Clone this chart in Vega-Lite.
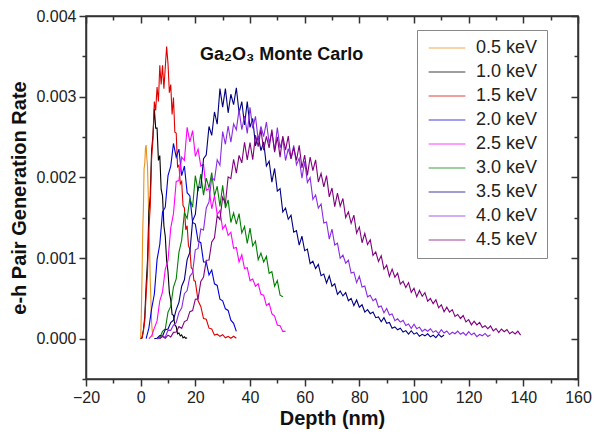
{
"$schema":"https://vega.github.io/schema/vega-lite/v6.json",
"width":492,"height":363,
"autosize":{"type":"none"},
"padding":{"left":86,"top":16,"right":16,"bottom":59},
"background":"white",
"config":{"view":{"stroke":"#333","strokeWidth":1.5},"font":"Liberation Sans"},
"resolve":{"axis":{"x":"independent","y":"independent"}},
"layer":[
{
"data":{"values":[
{"s":"0.5 keV","x":0,"y":0},{"s":"0.5 keV","x":0.25,"y":0.00033},{"s":"0.5 keV","x":0.5,"y":0.00076},{"s":"0.5 keV","x":0.75,"y":0.00134},{"s":"0.5 keV","x":1,"y":0.00162},{"s":"0.5 keV","x":1.25,"y":0.00211},{"s":"0.5 keV","x":1.5,"y":0.00217},{"s":"0.5 keV","x":1.75,"y":0.00236},{"s":"0.5 keV","x":2,"y":0.0024},{"s":"0.5 keV","x":2.25,"y":0.00224},{"s":"0.5 keV","x":2.5,"y":0.00214},{"s":"0.5 keV","x":2.75,"y":0.00182},{"s":"0.5 keV","x":3,"y":0.00141},{"s":"0.5 keV","x":3.25,"y":0.00116},{"s":"0.5 keV","x":3.5,"y":0.00072},{"s":"0.5 keV","x":3.75,"y":0.00048},{"s":"0.5 keV","x":4,"y":0.0002},{"s":"0.5 keV","x":4.25,"y":0.00009},{"s":"0.5 keV","x":4.5,"y":0.00002},
{"s":"1.0 keV","x":0,"y":0},{"s":"1.0 keV","x":0.5,"y":0.00001},{"s":"1.0 keV","x":1,"y":0.00011},{"s":"1.0 keV","x":1.5,"y":0.00027},{"s":"1.0 keV","x":2,"y":0.00066},{"s":"1.0 keV","x":2.5,"y":0.00097},{"s":"1.0 keV","x":3,"y":0.00157},{"s":"1.0 keV","x":3.5,"y":0.00177},{"s":"1.0 keV","x":4,"y":0.00233},{"s":"1.0 keV","x":4.5,"y":0.00252},{"s":"1.0 keV","x":5,"y":0.00285},{"s":"1.0 keV","x":5.5,"y":0.00261},{"s":"1.0 keV","x":6,"y":0.00261},{"s":"1.0 keV","x":6.5,"y":0.00221},{"s":"1.0 keV","x":7,"y":0.00227},{"s":"1.0 keV","x":7.5,"y":0.00185},{"s":"1.0 keV","x":8,"y":0.00177},{"s":"1.0 keV","x":8.5,"y":0.0014},{"s":"1.0 keV","x":9,"y":0.00127},{"s":"1.0 keV","x":9.5,"y":0.00097},{"s":"1.0 keV","x":10,"y":0.00083},{"s":"1.0 keV","x":10.5,"y":0.00057},{"s":"1.0 keV","x":11,"y":0.00048},{"s":"1.0 keV","x":11.5,"y":0.0003},{"s":"1.0 keV","x":12,"y":0.00029},{"s":"1.0 keV","x":12.5,"y":0.00017},{"s":"1.0 keV","x":13,"y":0.00015},{"s":"1.0 keV","x":13.5,"y":0.00006},{"s":"1.0 keV","x":14,"y":0.00007},{"s":"1.0 keV","x":14.5,"y":0.000034},{"s":"1.0 keV","x":15,"y":0.000048},{"s":"1.0 keV","x":15.5,"y":0.00001},{"s":"1.0 keV","x":16,"y":0.000023},{"s":"1.0 keV","x":16.5,"y":0.000005},{"s":"1.0 keV","x":17,"y":0.000012},
{"s":"1.5 keV","x":0,"y":0},{"s":"1.5 keV","x":0.5,"y":0.00001},{"s":"1.5 keV","x":1,"y":0.00009},{"s":"1.5 keV","x":1.5,"y":0.00022},{"s":"1.5 keV","x":2,"y":0.00055},{"s":"1.5 keV","x":2.5,"y":0.00082},{"s":"1.5 keV","x":3,"y":0.00136},{"s":"1.5 keV","x":3.5,"y":0.00163},{"s":"1.5 keV","x":4,"y":0.00223},{"s":"1.5 keV","x":4.5,"y":0.00248},{"s":"1.5 keV","x":5,"y":0.00294},{"s":"1.5 keV","x":5.5,"y":0.00283},{"s":"1.5 keV","x":6,"y":0.00312},{"s":"1.5 keV","x":6.5,"y":0.00294},{"s":"1.5 keV","x":7,"y":0.00339},{"s":"1.5 keV","x":7.5,"y":0.00315},{"s":"1.5 keV","x":8,"y":0.00339},{"s":"1.5 keV","x":8.5,"y":0.0031},{"s":"1.5 keV","x":9,"y":0.00336},{"s":"1.5 keV","x":9.5,"y":0.00362},{"s":"1.5 keV","x":10,"y":0.00341},{"s":"1.5 keV","x":10.5,"y":0.00305},{"s":"1.5 keV","x":11,"y":0.00315},{"s":"1.5 keV","x":11.5,"y":0.00278},{"s":"1.5 keV","x":12,"y":0.00299},{"s":"1.5 keV","x":12.5,"y":0.00256},{"s":"1.5 keV","x":13,"y":0.00255},{"s":"1.5 keV","x":13.5,"y":0.00213},{"s":"1.5 keV","x":14,"y":0.00215},{"s":"1.5 keV","x":14.5,"y":0.00192},{"s":"1.5 keV","x":15,"y":0.00195},{"s":"1.5 keV","x":15.5,"y":0.00165},{"s":"1.5 keV","x":16,"y":0.00162},{"s":"1.5 keV","x":16.5,"y":0.00135},{"s":"1.5 keV","x":17,"y":0.0014},{"s":"1.5 keV","x":17.5,"y":0.00115},{"s":"1.5 keV","x":18,"y":0.00111},{"s":"1.5 keV","x":18.5,"y":0.00088},{"s":"1.5 keV","x":19,"y":0.00086},{"s":"1.5 keV","x":19.5,"y":0.00072},{"s":"1.5 keV","x":20,"y":0.00071},{"s":"1.5 keV","x":21,"y":0.00047},{"s":"1.5 keV","x":22,"y":0.0004},{"s":"1.5 keV","x":23,"y":0.00025},{"s":"1.5 keV","x":24,"y":0.00024},{"s":"1.5 keV","x":25,"y":0.00013},{"s":"1.5 keV","x":26,"y":0.00012},{"s":"1.5 keV","x":27,"y":0.000044},{"s":"1.5 keV","x":28,"y":0.000055},{"s":"1.5 keV","x":29,"y":0.000029},{"s":"1.5 keV","x":30,"y":0.000049},{"s":"1.5 keV","x":31,"y":0.00001},{"s":"1.5 keV","x":32,"y":0.000028},{"s":"1.5 keV","x":33,"y":0.000005},{"s":"1.5 keV","x":34,"y":0.00003},{"s":"1.5 keV","x":35,"y":0.000005},
{"s":"2.0 keV","x":2,"y":0},{"s":"2.0 keV","x":3,"y":0.00013},{"s":"2.0 keV","x":4,"y":0.00037},{"s":"2.0 keV","x":5,"y":0.00055},{"s":"2.0 keV","x":6,"y":0.00098},{"s":"2.0 keV","x":7,"y":0.00117},{"s":"2.0 keV","x":8,"y":0.00157},{"s":"2.0 keV","x":9,"y":0.00163},{"s":"2.0 keV","x":10,"y":0.00202},{"s":"2.0 keV","x":11,"y":0.00214},{"s":"2.0 keV","x":12,"y":0.00242},{"s":"2.0 keV","x":13,"y":0.00225},{"s":"2.0 keV","x":14,"y":0.00235},{"s":"2.0 keV","x":15,"y":0.00202},{"s":"2.0 keV","x":16,"y":0.00214},{"s":"2.0 keV","x":17,"y":0.00181},{"s":"2.0 keV","x":18,"y":0.00177},{"s":"2.0 keV","x":19,"y":0.00144},{"s":"2.0 keV","x":20,"y":0.00142},{"s":"2.0 keV","x":21,"y":0.00121},{"s":"2.0 keV","x":22,"y":0.00119},{"s":"2.0 keV","x":23,"y":0.00095},{"s":"2.0 keV","x":24,"y":0.00095},{"s":"2.0 keV","x":25,"y":0.00079},{"s":"2.0 keV","x":26,"y":0.00085},{"s":"2.0 keV","x":27,"y":0.00068},{"s":"2.0 keV","x":28,"y":0.00066},{"s":"2.0 keV","x":29,"y":0.00049},{"s":"2.0 keV","x":30,"y":0.00047},{"s":"2.0 keV","x":31,"y":0.00037},{"s":"2.0 keV","x":32,"y":0.00035},{"s":"2.0 keV","x":33,"y":0.00023},{"s":"2.0 keV","x":34,"y":0.00019},{"s":"2.0 keV","x":35,"y":0.00009},
{"s":"2.5 keV","x":3,"y":0},{"s":"2.5 keV","x":4,"y":0.000034},{"s":"2.5 keV","x":5,"y":0.00013},{"s":"2.5 keV","x":6,"y":0.00022},{"s":"2.5 keV","x":7,"y":0.00047},{"s":"2.5 keV","x":8,"y":0.00058},{"s":"2.5 keV","x":9,"y":0.00086},{"s":"2.5 keV","x":10,"y":0.00097},{"s":"2.5 keV","x":11,"y":0.00137},{"s":"2.5 keV","x":12,"y":0.00155},{"s":"2.5 keV","x":13,"y":0.00195},{"s":"2.5 keV","x":14,"y":0.00196},{"s":"2.5 keV","x":15,"y":0.00225},{"s":"2.5 keV","x":16,"y":0.00221},{"s":"2.5 keV","x":17,"y":0.00262},{"s":"2.5 keV","x":18,"y":0.00244},{"s":"2.5 keV","x":19,"y":0.00258},{"s":"2.5 keV","x":20,"y":0.00226},{"s":"2.5 keV","x":21,"y":0.00235},{"s":"2.5 keV","x":22,"y":0.00214},{"s":"2.5 keV","x":23,"y":0.00216},{"s":"2.5 keV","x":24,"y":0.00184},{"s":"2.5 keV","x":25,"y":0.00186},{"s":"2.5 keV","x":26,"y":0.00161},{"s":"2.5 keV","x":27,"y":0.00177},{"s":"2.5 keV","x":28,"y":0.00154},{"s":"2.5 keV","x":29,"y":0.00159},{"s":"2.5 keV","x":30,"y":0.00136},{"s":"2.5 keV","x":31,"y":0.00141},{"s":"2.5 keV","x":32,"y":0.00128},{"s":"2.5 keV","x":33,"y":0.00132},{"s":"2.5 keV","x":34,"y":0.00112},{"s":"2.5 keV","x":35,"y":0.00113},{"s":"2.5 keV","x":36,"y":0.00095},{"s":"2.5 keV","x":37,"y":0.00104},{"s":"2.5 keV","x":38,"y":0.00087},{"s":"2.5 keV","x":39,"y":0.00088},{"s":"2.5 keV","x":40,"y":0.00072},{"s":"2.5 keV","x":41,"y":0.00074},{"s":"2.5 keV","x":42,"y":0.00065},{"s":"2.5 keV","x":43,"y":0.00068},{"s":"2.5 keV","x":44,"y":0.00055},{"s":"2.5 keV","x":45,"y":0.00054},{"s":"2.5 keV","x":46,"y":0.00041},{"s":"2.5 keV","x":47,"y":0.00044},{"s":"2.5 keV","x":48,"y":0.00031},{"s":"2.5 keV","x":49,"y":0.00028},{"s":"2.5 keV","x":50,"y":0.00017},{"s":"2.5 keV","x":51,"y":0.00016},{"s":"2.5 keV","x":52,"y":0.00009},{"s":"2.5 keV","x":53,"y":0.00009},
{"s":"3.0 keV","x":6,"y":0},{"s":"3.0 keV","x":7,"y":0.000015},{"s":"3.0 keV","x":8,"y":0.00009},{"s":"3.0 keV","x":9,"y":0.00012},{"s":"3.0 keV","x":10,"y":0.00033},{"s":"3.0 keV","x":11,"y":0.0004},{"s":"3.0 keV","x":12,"y":0.00064},{"s":"3.0 keV","x":13,"y":0.00074},{"s":"3.0 keV","x":14,"y":0.00107},{"s":"3.0 keV","x":15,"y":0.00122},{"s":"3.0 keV","x":16,"y":0.00156},{"s":"3.0 keV","x":17,"y":0.00149},{"s":"3.0 keV","x":18,"y":0.00174},{"s":"3.0 keV","x":19,"y":0.00163},{"s":"3.0 keV","x":20,"y":0.00202},{"s":"3.0 keV","x":21,"y":0.00183},{"s":"3.0 keV","x":22,"y":0.00204},{"s":"3.0 keV","x":23,"y":0.00178},{"s":"3.0 keV","x":24,"y":0.00199},{"s":"3.0 keV","x":25,"y":0.00187},{"s":"3.0 keV","x":26,"y":0.00206},{"s":"3.0 keV","x":27,"y":0.00177},{"s":"3.0 keV","x":28,"y":0.00189},{"s":"3.0 keV","x":29,"y":0.00164},{"s":"3.0 keV","x":30,"y":0.0019},{"s":"3.0 keV","x":31,"y":0.00162},{"s":"3.0 keV","x":32,"y":0.00172},{"s":"3.0 keV","x":33,"y":0.00144},{"s":"3.0 keV","x":34,"y":0.00156},{"s":"3.0 keV","x":35,"y":0.00142},{"s":"3.0 keV","x":36,"y":0.00155},{"s":"3.0 keV","x":37,"y":0.00131},{"s":"3.0 keV","x":38,"y":0.00139},{"s":"3.0 keV","x":39,"y":0.00118},{"s":"3.0 keV","x":40,"y":0.00137},{"s":"3.0 keV","x":41,"y":0.00115},{"s":"3.0 keV","x":42,"y":0.00121},{"s":"3.0 keV","x":43,"y":0.00098},{"s":"3.0 keV","x":44,"y":0.00106},{"s":"3.0 keV","x":45,"y":0.00095},{"s":"3.0 keV","x":46,"y":0.00102},{"s":"3.0 keV","x":47,"y":0.00081},{"s":"3.0 keV","x":48,"y":0.00083},{"s":"3.0 keV","x":49,"y":0.00065},{"s":"3.0 keV","x":50,"y":0.00072},{"s":"3.0 keV","x":51,"y":0.00054},{"s":"3.0 keV","x":52,"y":0.00052},
{"s":"3.5 keV","x":5,"y":0},{"s":"3.5 keV","x":6,"y":0.000005},{"s":"3.5 keV","x":7,"y":0.000039},{"s":"3.5 keV","x":8,"y":0.000032},{"s":"3.5 keV","x":9,"y":0.00011},{"s":"3.5 keV","x":10,"y":0.00012},{"s":"3.5 keV","x":11,"y":0.0002},{"s":"3.5 keV","x":12,"y":0.00023},{"s":"3.5 keV","x":13,"y":0.00036},{"s":"3.5 keV","x":14,"y":0.00045},{"s":"3.5 keV","x":15,"y":0.00065},{"s":"3.5 keV","x":16,"y":0.00073},{"s":"3.5 keV","x":17,"y":0.00098},{"s":"3.5 keV","x":18,"y":0.00107},{"s":"3.5 keV","x":19,"y":0.00146},{"s":"3.5 keV","x":20,"y":0.00154},{"s":"3.5 keV","x":21,"y":0.00188},{"s":"3.5 keV","x":22,"y":0.00187},{"s":"3.5 keV","x":23,"y":0.00223},{"s":"3.5 keV","x":24,"y":0.00228},{"s":"3.5 keV","x":25,"y":0.00263},{"s":"3.5 keV","x":26,"y":0.00252},{"s":"3.5 keV","x":27,"y":0.00281},{"s":"3.5 keV","x":28,"y":0.00266},{"s":"3.5 keV","x":29,"y":0.0031},{"s":"3.5 keV","x":30,"y":0.00287},{"s":"3.5 keV","x":31,"y":0.0031},{"s":"3.5 keV","x":32,"y":0.0028},{"s":"3.5 keV","x":33,"y":0.00303},{"s":"3.5 keV","x":34,"y":0.0029},{"s":"3.5 keV","x":35,"y":0.00311},{"s":"3.5 keV","x":36,"y":0.0028},{"s":"3.5 keV","x":37,"y":0.00294},{"s":"3.5 keV","x":38,"y":0.00265},{"s":"3.5 keV","x":39,"y":0.00294},{"s":"3.5 keV","x":40,"y":0.00262},{"s":"3.5 keV","x":41,"y":0.00273},{"s":"3.5 keV","x":42,"y":0.00239},{"s":"3.5 keV","x":43,"y":0.00251},{"s":"3.5 keV","x":44,"y":0.00233},{"s":"3.5 keV","x":45,"y":0.00244},{"s":"3.5 keV","x":46,"y":0.00214},{"s":"3.5 keV","x":47,"y":0.0022},{"s":"3.5 keV","x":48,"y":0.00194},{"s":"3.5 keV","x":49,"y":0.00211},{"s":"3.5 keV","x":50,"y":0.00183},{"s":"3.5 keV","x":51,"y":0.00186},{"s":"3.5 keV","x":52,"y":0.00157},{"s":"3.5 keV","x":53,"y":0.00162},{"s":"3.5 keV","x":54,"y":0.00148},{"s":"3.5 keV","x":55,"y":0.00153},{"s":"3.5 keV","x":56,"y":0.00132},{"s":"3.5 keV","x":57,"y":0.00134},{"s":"3.5 keV","x":58,"y":0.00116},{"s":"3.5 keV","x":59,"y":0.00127},{"s":"3.5 keV","x":60,"y":0.00109},{"s":"3.5 keV","x":61,"y":0.00111},{"s":"3.5 keV","x":62,"y":0.00093},{"s":"3.5 keV","x":63,"y":0.00096},{"s":"3.5 keV","x":64,"y":0.00087},{"s":"3.5 keV","x":65,"y":0.00092},{"s":"3.5 keV","x":66,"y":0.00078},{"s":"3.5 keV","x":67,"y":0.0008},{"s":"3.5 keV","x":68,"y":0.00069},{"s":"3.5 keV","x":69,"y":0.00078},{"s":"3.5 keV","x":70,"y":0.00065},{"s":"3.5 keV","x":71,"y":0.00068},{"s":"3.5 keV","x":72,"y":0.00055},{"s":"3.5 keV","x":73,"y":0.00059},{"s":"3.5 keV","x":74,"y":0.00053},{"s":"3.5 keV","x":75,"y":0.00057},{"s":"3.5 keV","x":76,"y":0.00047},{"s":"3.5 keV","x":77,"y":0.0005},{"s":"3.5 keV","x":78,"y":0.00041},{"s":"3.5 keV","x":79,"y":0.00048},{"s":"3.5 keV","x":80,"y":0.00039},{"s":"3.5 keV","x":81,"y":0.00042},{"s":"3.5 keV","x":82,"y":0.00033},{"s":"3.5 keV","x":83,"y":0.00036},{"s":"3.5 keV","x":84,"y":0.00031},{"s":"3.5 keV","x":85,"y":0.00033},{"s":"3.5 keV","x":86,"y":0.00026},{"s":"3.5 keV","x":87,"y":0.00027},{"s":"3.5 keV","x":88,"y":0.00021},{"s":"3.5 keV","x":89,"y":0.00026},{"s":"3.5 keV","x":90,"y":0.00019},{"s":"3.5 keV","x":91,"y":0.0002},{"s":"3.5 keV","x":92,"y":0.00013},{"s":"3.5 keV","x":93,"y":0.000145},{"s":"3.5 keV","x":94,"y":0.00011},{"s":"3.5 keV","x":95,"y":0.00013},{"s":"3.5 keV","x":96,"y":0.000083},{"s":"3.5 keV","x":97,"y":0.0001},{"s":"3.5 keV","x":98,"y":0.000056},{"s":"3.5 keV","x":99,"y":0.000098},{"s":"3.5 keV","x":100,"y":0.000056},{"s":"3.5 keV","x":101,"y":0.000075},{"s":"3.5 keV","x":102,"y":0.00003},{"s":"3.5 keV","x":103,"y":0.000054},{"s":"3.5 keV","x":104,"y":0.000035},{"s":"3.5 keV","x":105,"y":0.00006},{"s":"3.5 keV","x":106,"y":0.000022},{"s":"3.5 keV","x":107,"y":0.000043},{"s":"3.5 keV","x":108,"y":0.000012},{"s":"3.5 keV","x":109,"y":0.000055},{"s":"3.5 keV","x":110,"y":0.000021},{"s":"3.5 keV","x":111,"y":0.000045},
{"s":"4.0 keV","x":6,"y":0},{"s":"4.0 keV","x":7,"y":0.000003},{"s":"4.0 keV","x":8,"y":0.000035},{"s":"4.0 keV","x":9,"y":0.000018},{"s":"4.0 keV","x":10,"y":0.000106},{"s":"4.0 keV","x":11,"y":0.000103},{"s":"4.0 keV","x":12,"y":0.000169},{"s":"4.0 keV","x":13,"y":0.000198},{"s":"4.0 keV","x":14,"y":0.000324},{"s":"4.0 keV","x":15,"y":0.00038},{"s":"4.0 keV","x":16,"y":0.000558},{"s":"4.0 keV","x":17,"y":0.000597},{"s":"4.0 keV","x":18,"y":0.000773},{"s":"4.0 keV","x":19,"y":0.000819},{"s":"4.0 keV","x":20,"y":0.001102},{"s":"4.0 keV","x":21,"y":0.001119},{"s":"4.0 keV","x":22,"y":0.00136},{"s":"4.0 keV","x":23,"y":0.001348},{"s":"4.0 keV","x":24,"y":0.00162},{"s":"4.0 keV","x":25,"y":0.001696},{"s":"4.0 keV","x":26,"y":0.002004},{"s":"4.0 keV","x":27,"y":0.001964},{"s":"4.0 keV","x":28,"y":0.002218},{"s":"4.0 keV","x":29,"y":0.002149},{"s":"4.0 keV","x":30,"y":0.002568},{"s":"4.0 keV","x":31,"y":0.00241},{"s":"4.0 keV","x":32,"y":0.002636},{"s":"4.0 keV","x":33,"y":0.002435},{"s":"4.0 keV","x":34,"y":0.002663},{"s":"4.0 keV","x":35,"y":0.00259},{"s":"4.0 keV","x":36,"y":0.00284},{"s":"4.0 keV","x":37,"y":0.00259},{"s":"4.0 keV","x":38,"y":0.00276},{"s":"4.0 keV","x":39,"y":0.002545},{"s":"4.0 keV","x":40,"y":0.002868},{"s":"4.0 keV","x":41,"y":0.002606},{"s":"4.0 keV","x":42,"y":0.002757},{"s":"4.0 keV","x":43,"y":0.00246},{"s":"4.0 keV","x":44,"y":0.002633},{"s":"4.0 keV","x":45,"y":0.002505},{"s":"4.0 keV","x":46,"y":0.002686},{"s":"4.0 keV","x":47,"y":0.002425},{"s":"4.0 keV","x":48,"y":0.002558},{"s":"4.0 keV","x":49,"y":0.002329},{"s":"4.0 keV","x":50,"y":0.002617},{"s":"4.0 keV","x":51,"y":0.002364},{"s":"4.0 keV","x":52,"y":0.002488},{"s":"4.0 keV","x":53,"y":0.002208},{"s":"4.0 keV","x":54,"y":0.002357},{"s":"4.0 keV","x":55,"y":0.002233},{"s":"4.0 keV","x":56,"y":0.002396},{"s":"4.0 keV","x":57,"y":0.002157},{"s":"4.0 keV","x":58,"y":0.002235},{"s":"4.0 keV","x":59,"y":0.001991},{"s":"4.0 keV","x":60,"y":0.002197},{"s":"4.0 keV","x":61,"y":0.001935},{"s":"4.0 keV","x":62,"y":0.001998},{"s":"4.0 keV","x":63,"y":0.001726},{"s":"4.0 keV","x":64,"y":0.001782},{"s":"4.0 keV","x":65,"y":0.001618},{"s":"4.0 keV","x":66,"y":0.001669},{"s":"4.0 keV","x":67,"y":0.001434},{"s":"4.0 keV","x":68,"y":0.001446},{"s":"4.0 keV","x":69,"y":0.001234},{"s":"4.0 keV","x":70,"y":0.001357},{"s":"4.0 keV","x":71,"y":0.001161},{"s":"4.0 keV","x":72,"y":0.001184},{"s":"4.0 keV","x":73,"y":0.000996},{"s":"4.0 keV","x":74,"y":0.001037},{"s":"4.0 keV","x":75,"y":0.000936},{"s":"4.0 keV","x":76,"y":0.000972},{"s":"4.0 keV","x":77,"y":0.000813},{"s":"4.0 keV","x":78,"y":0.000824},{"s":"4.0 keV","x":79,"y":0.000695},{"s":"4.0 keV","x":80,"y":0.000773},{"s":"4.0 keV","x":81,"y":0.000639},{"s":"4.0 keV","x":82,"y":0.000653},{"s":"4.0 keV","x":83,"y":0.000519},{"s":"4.0 keV","x":84,"y":0.000539},{"s":"4.0 keV","x":85,"y":0.000471},{"s":"4.0 keV","x":86,"y":0.000495},{"s":"4.0 keV","x":87,"y":0.000391},{"s":"4.0 keV","x":88,"y":0.000406},{"s":"4.0 keV","x":89,"y":0.000322},{"s":"4.0 keV","x":90,"y":0.000374},{"s":"4.0 keV","x":91,"y":0.000293},{"s":"4.0 keV","x":92,"y":0.000307},{"s":"4.0 keV","x":93,"y":0.000224},{"s":"4.0 keV","x":94,"y":0.000246},{"s":"4.0 keV","x":95,"y":0.000205},{"s":"4.0 keV","x":96,"y":0.000227},{"s":"4.0 keV","x":97,"y":0.000164},{"s":"4.0 keV","x":98,"y":0.000181},{"s":"4.0 keV","x":99,"y":0.000127},{"s":"4.0 keV","x":100,"y":0.000178},{"s":"4.0 keV","x":101,"y":0.000124},{"s":"4.0 keV","x":102,"y":0.000143},{"s":"4.0 keV","x":103,"y":0.00009},{"s":"4.0 keV","x":104,"y":0.000117},{"s":"4.0 keV","x":105,"y":0.000092},{"s":"4.0 keV","x":106,"y":0.000123},{"s":"4.0 keV","x":107,"y":0.000078},{"s":"4.0 keV","x":108,"y":0.0001},{"s":"4.0 keV","x":109,"y":0.000063},{"s":"4.0 keV","x":110,"y":0.000112},{"s":"4.0 keV","x":111,"y":0.00007},{"s":"4.0 keV","x":112,"y":0.000095},{"s":"4.0 keV","x":113,"y":0.000051},{"s":"4.0 keV","x":114,"y":0.00008},{"s":"4.0 keV","x":115,"y":0.000061},{"s":"4.0 keV","x":116,"y":0.000093},{"s":"4.0 keV","x":117,"y":0.000054},{"s":"4.0 keV","x":118,"y":0.000076},{"s":"4.0 keV","x":119,"y":0.00004},{"s":"4.0 keV","x":120,"y":0.000088},{"s":"4.0 keV","x":121,"y":0.000048},{"s":"4.0 keV","x":122,"y":0.000069},{"s":"4.0 keV","x":123,"y":0.000025},{"s":"4.0 keV","x":124,"y":0.000052},{"s":"4.0 keV","x":125,"y":0.000036},{"s":"4.0 keV","x":126,"y":0.000065},{"s":"4.0 keV","x":127,"y":0.000027},{"s":"4.0 keV","x":128,"y":0.000049},
{"s":"4.5 keV","x":7,"y":0},{"s":"4.5 keV","x":8,"y":0.000025},{"s":"4.5 keV","x":9,"y":0.000005},{"s":"4.5 keV","x":10,"y":0.000044},{"s":"4.5 keV","x":11,"y":0.00002},{"s":"4.5 keV","x":12,"y":0.000078},{"s":"4.5 keV","x":13,"y":0.000083},{"s":"4.5 keV","x":14,"y":0.000149},{"s":"4.5 keV","x":15,"y":0.000128},{"s":"4.5 keV","x":16,"y":0.000212},{"s":"4.5 keV","x":17,"y":0.00023},{"s":"4.5 keV","x":18,"y":0.000335},{"s":"4.5 keV","x":19,"y":0.000348},{"s":"4.5 keV","x":20,"y":0.000489},{"s":"4.5 keV","x":21,"y":0.000493},{"s":"4.5 keV","x":22,"y":0.00071},{"s":"4.5 keV","x":23,"y":0.000765},{"s":"4.5 keV","x":24,"y":0.000972},{"s":"4.5 keV","x":25,"y":0.000976},{"s":"4.5 keV","x":26,"y":0.001198},{"s":"4.5 keV","x":27,"y":0.001249},{"s":"4.5 keV","x":28,"y":0.001525},{"s":"4.5 keV","x":29,"y":0.001478},{"s":"4.5 keV","x":30,"y":0.001753},{"s":"4.5 keV","x":31,"y":0.001675},{"s":"4.5 keV","x":32,"y":0.002006},{"s":"4.5 keV","x":33,"y":0.001984},{"s":"4.5 keV","x":34,"y":0.002224},{"s":"4.5 keV","x":35,"y":0.002051},{"s":"4.5 keV","x":36,"y":0.002272},{"s":"4.5 keV","x":37,"y":0.00218},{"s":"4.5 keV","x":38,"y":0.002435},{"s":"4.5 keV","x":39,"y":0.002217},{"s":"4.5 keV","x":40,"y":0.002432},{"s":"4.5 keV","x":41,"y":0.00222},{"s":"4.5 keV","x":42,"y":0.002522},{"s":"4.5 keV","x":43,"y":0.002381},{"s":"4.5 keV","x":44,"y":0.002593},{"s":"4.5 keV","x":45,"y":0.002336},{"s":"4.5 keV","x":46,"y":0.002507},{"s":"4.5 keV","x":47,"y":0.002365},{"s":"4.5 keV","x":48,"y":0.002593},{"s":"4.5 keV","x":49,"y":0.002312},{"s":"4.5 keV","x":50,"y":0.002501},{"s":"4.5 keV","x":51,"y":0.002251},{"s":"4.5 keV","x":52,"y":0.002512},{"s":"4.5 keV","x":53,"y":0.002338},{"s":"4.5 keV","x":54,"y":0.002512},{"s":"4.5 keV","x":55,"y":0.002228},{"s":"4.5 keV","x":56,"y":0.002367},{"s":"4.5 keV","x":57,"y":0.002209},{"s":"4.5 keV","x":58,"y":0.002396},{"s":"4.5 keV","x":59,"y":0.002118},{"s":"4.5 keV","x":60,"y":0.002275},{"s":"4.5 keV","x":61,"y":0.002025},{"s":"4.5 keV","x":62,"y":0.002252},{"s":"4.5 keV","x":63,"y":0.002082},{"s":"4.5 keV","x":64,"y":0.002216},{"s":"4.5 keV","x":65,"y":0.001942},{"s":"4.5 keV","x":66,"y":0.002048},{"s":"4.5 keV","x":67,"y":0.001882},{"s":"4.5 keV","x":68,"y":0.002022},{"s":"4.5 keV","x":69,"y":0.001758},{"s":"4.5 keV","x":70,"y":0.001868},{"s":"4.5 keV","x":71,"y":0.001637},{"s":"4.5 keV","x":72,"y":0.001805},{"s":"4.5 keV","x":73,"y":0.001642},{"s":"4.5 keV","x":74,"y":0.001738},{"s":"4.5 keV","x":75,"y":0.001501},{"s":"4.5 keV","x":76,"y":0.001572},{"s":"4.5 keV","x":77,"y":0.00143},{"s":"4.5 keV","x":78,"y":0.001532},{"s":"4.5 keV","x":79,"y":0.001309},{"s":"4.5 keV","x":80,"y":0.001384},{"s":"4.5 keV","x":81,"y":0.001189},{"s":"4.5 keV","x":82,"y":0.001306},{"s":"4.5 keV","x":83,"y":0.001166},{"s":"4.5 keV","x":84,"y":0.001225},{"s":"4.5 keV","x":85,"y":0.001033},{"s":"4.5 keV","x":86,"y":0.001076},{"s":"4.5 keV","x":87,"y":0.000958},{"s":"4.5 keV","x":88,"y":0.001028},{"s":"4.5 keV","x":89,"y":0.000861},{"s":"4.5 keV","x":90,"y":0.000912},{"s":"4.5 keV","x":91,"y":0.000772},{"s":"4.5 keV","x":92,"y":0.000862},{"s":"4.5 keV","x":93,"y":0.000762},{"s":"4.5 keV","x":94,"y":0.000813},{"s":"4.5 keV","x":95,"y":0.000675},{"s":"4.5 keV","x":96,"y":0.000712},{"s":"4.5 keV","x":97,"y":0.000635},{"s":"4.5 keV","x":98,"y":0.000695},{"s":"4.5 keV","x":99,"y":0.000574},{"s":"4.5 keV","x":100,"y":0.000625},{"s":"4.5 keV","x":101,"y":0.000521},{"s":"4.5 keV","x":102,"y":0.000598},{"s":"4.5 keV","x":103,"y":0.000526},{"s":"4.5 keV","x":104,"y":0.000571},{"s":"4.5 keV","x":105,"y":0.000464},{"s":"4.5 keV","x":106,"y":0.000498},{"s":"4.5 keV","x":107,"y":0.000434},{"s":"4.5 keV","x":108,"y":0.000482},{"s":"4.5 keV","x":109,"y":0.000383},{"s":"4.5 keV","x":110,"y":0.00042},{"s":"4.5 keV","x":111,"y":0.000333},{"s":"4.5 keV","x":112,"y":0.00039},{"s":"4.5 keV","x":113,"y":0.000329},{"s":"4.5 keV","x":114,"y":0.00036},{"s":"4.5 keV","x":115,"y":0.000275},{"s":"4.5 keV","x":116,"y":0.0003},{"s":"4.5 keV","x":117,"y":0.00025},{"s":"4.5 keV","x":118,"y":0.000286},{"s":"4.5 keV","x":119,"y":0.000208},{"s":"4.5 keV","x":120,"y":0.000236},{"s":"4.5 keV","x":121,"y":0.000171},{"s":"4.5 keV","x":122,"y":0.000217},{"s":"4.5 keV","x":123,"y":0.000171},{"s":"4.5 keV","x":124,"y":0.000201},{"s":"4.5 keV","x":125,"y":0.000138},{"s":"4.5 keV","x":126,"y":0.000161},{"s":"4.5 keV","x":127,"y":0.000124},{"s":"4.5 keV","x":128,"y":0.000157},{"s":"4.5 keV","x":129,"y":0.000097},{"s":"4.5 keV","x":130,"y":0.000126},{"s":"4.5 keV","x":131,"y":0.000077},{"s":"4.5 keV","x":132,"y":0.00012},{"s":"4.5 keV","x":133,"y":0.000086},{"s":"4.5 keV","x":134,"y":0.000114},{"s":"4.5 keV","x":135,"y":0.000061},{"s":"4.5 keV","x":136,"y":0.000087},{"s":"4.5 keV","x":137,"y":0.000059},{"s":"4.5 keV","x":138,"y":0.000094},{"s":"4.5 keV","x":139,"y":0.000044}
]},
"mark":{"type":"line","strokeWidth":1.1,"clip":true},
"encoding":{
"x":{"field":"x","type":"quantitative","scale":{"domain":[-20,160],"nice":false,"zero":false},
"axis":{"orient":"bottom","values":[-20,-10,0,10,20,30,40,50,60,70,80,90,100,110,120,130,140,150,160],"labelExpr":"datum.value % 20 === 0 ? datum.label : ''","title":"Depth (nm)","titleFont":"Liberation Sans","titleFontSize":20,"titleFontWeight":"bold","titleColor":"#111","titlePadding":3,"labelFont":"Liberation Sans","labelFontSize":16,"labelColor":"#222","labelPadding":3,"labelFlush":false,"labelOverlap":false,"tickColor":"#333","tickWidth":1.5,"tickSize":{"condition":{"test":"datum.value % 20 === 0","value":7},"value":4},"domainColor":"#333","domainWidth":1.5,"grid":false}},
"y":{"field":"y","type":"quantitative","scale":{"domain":[-0.0005,0.004],"nice":false,"zero":false},
"axis":{"orient":"left","values":[-0.0005,0,0.0005,0.001,0.0015,0.002,0.0025,0.003,0.0035,0.004],"format":".3f","labelExpr":"abs(datum.value*1000 - round(datum.value*1000)) < 0.01 ? datum.label : ''","title":"e-h Pair Generation Rate","titleFont":"Liberation Sans","titleFontSize":20,"titleFontWeight":"bold","titleColor":"#111","titlePadding":6,"labelFont":"Liberation Sans","labelFontSize":16,"labelColor":"#222","labelPadding":3,"labelFlush":false,"labelOverlap":false,"tickColor":"#333","tickWidth":1.5,"tickSize":{"condition":{"test":"abs(datum.value*1000 - round(datum.value*1000)) < 0.01","value":7},"value":4},"domainColor":"#333","domainWidth":1.5,"grid":false}},
"color":{"field":"s","type":"nominal","scale":{"domain":["0.5 keV","1.0 keV","1.5 keV","2.0 keV","2.5 keV","3.0 keV","3.5 keV","4.0 keV","4.5 keV"],"range":["#E8901C","#000000","#E00000","#0000E0","#FF00FF","#008000","#000080","#8A2BE2","#800080"]},
"legend":{"orient":"none","legendX":331,"legendY":14,"title":null,"symbolType":"M-3,0H3","symbolSize":150,"symbolStrokeWidth":1.5,"symbolOpacity":0.5,"symbolOffset":12,"labelFont":"Liberation Sans","labelFontSize":18,"labelColor":"#222","labelOffset":20,"rowPadding":6,"strokeColor":"#888","fillColor":"white","padding":9}}
}
},
{
"data":{"values":[{"label":"Ga₂O₃ Monte Carlo","x":21.7,"y":0.00352}]},
"mark":{"type":"text","font":"Liberation Sans","fontWeight":"bold","fontSize":18,"align":"left","baseline":"middle","color":"#111"},
"encoding":{
"text":{"field":"label","type":"nominal"},
"x":{"field":"x","type":"quantitative","axis":{"orient":"top","values":[-20,-10,0,10,20,30,40,50,60,70,80,90,100,110,120,130,140,150,160],"labels":false,"title":null,"tickColor":"#333","tickWidth":1.5,"tickSize":{"condition":{"test":"datum.value % 20 === 0","value":-7},"value":-4},"domainColor":"#333","domainWidth":1.5,"grid":false}},
"y":{"field":"y","type":"quantitative","axis":{"orient":"right","values":[-0.0005,0,0.0005,0.001,0.0015,0.002,0.0025,0.003,0.0035,0.004],"labels":false,"title":null,"tickColor":"#333","tickWidth":1.5,"tickSize":{"condition":{"test":"abs(datum.value*1000 - round(datum.value*1000)) < 0.01","value":-7},"value":-4},"domainColor":"#333","domainWidth":1.5,"grid":false}}
}
}
]
}
